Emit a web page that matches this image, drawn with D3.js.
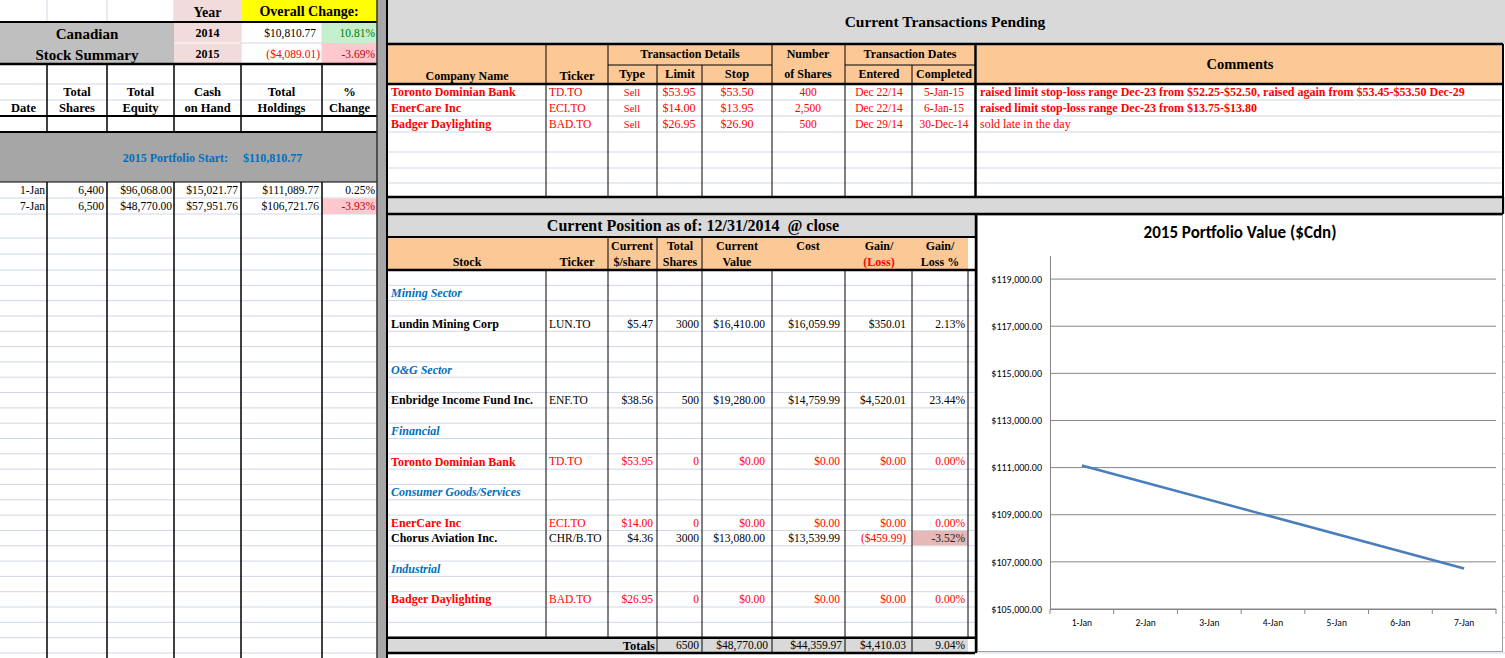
<!DOCTYPE html>
<html>
<head>
<meta charset="utf-8">
<title>Canadian Stock Summary</title>
<script src="https://cdn.jsdelivr.net/npm/d3@7"></script>
<style>
  body { margin: 0; background: #fff; overflow: hidden; }
  svg { display: block; }
  text { white-space: pre; }
</style>
</head>
<body>
<div id="sheet"></div>
<script>
// overall change block
const overallYears = ["2014", "2015"];
const overallAmounts = [10810.77, -4089.01];
const overallPercents = [10.81, -3.69];
const portfolioStart = 110810.77;

// daily summary (left table)
const summaryDates = ["1-Jan", "7-Jan"];
const summaryShares = [6400, 6500];
const summaryEquity = [96068.00, 48770.00];
const summaryCash = [15021.77, 57951.76];
const summaryHoldings = [111089.77, 106721.76];
const summaryChange = [0.25, -3.93];

// pending transactions
const txCompanies = ["Toronto Dominian Bank", "EnerCare Inc", "Badger Daylighting"];
const txTickers = ["TD.TO", "ECI.TO", "BAD.TO"];
const txTypes = ["Sell", "Sell", "Sell"];
const txLimits = [53.95, 14.00, 26.95];
const txStops = [53.50, 13.95, 26.90];
const txShares = [400, 2500, 500];
const txEntered = ["Dec 22/14", "Dec 22/14", "Dec 29/14"];
const txCompleted = ["5-Jan-15", "6-Jan-15", "30-Dec-14"];
const txComments = [
  "raised limit stop-loss range Dec-23 from $52.25-$52.50, raised again from $53.45-$53.50 Dec-29",
  "raised limit stop-loss range Dec-23 from $13.75-$13.80",
  "sold late in the day"
];

// current position
const sectorNames = ["Mining Sector", "O&G Sector", "Financial", "Consumer Goods/Services", "Industrial"];
const stockNames = ["Lundin Mining Corp", "Enbridge Income Fund Inc.", "Toronto Dominian Bank", "EnerCare Inc", "Chorus Aviation Inc.", "Badger Daylighting"];
const stockTickers = ["LUN.TO", "ENF.TO", "TD.TO", "ECI.TO", "CHR/B.TO", "BAD.TO"];
const stockPrices = [5.47, 38.56, 53.95, 14.00, 4.36, 26.95];
const stockShares = [3000, 500, 0, 0, 3000, 0];
const stockValues = [16410.00, 19280.00, 0, 0, 13080.00, 0];
const stockCosts = [16059.99, 14759.99, 0, 0, 13539.99, 0];
const stockGains = [350.01, 4520.01, 0, 0, -459.99, 0];
const stockGainPct = [2.13, 23.44, 0.00, 0.00, -3.52, 0.00];
const totalsRow = [6500, 48770.00, 44359.97, 4410.03, 9.04];

// chart axis
const chartDays = ["1-Jan", "2-Jan", "3-Jan", "4-Jan", "5-Jan", "6-Jan", "7-Jan"];
const chartTicks = [105000, 107000, 109000, 111000, 113000, 115000, 117000, 119000];
const chartMax = 120000;

// ---- layout ----
const W = 1505, H = 658;
const SERIF = "'Liberation Serif','Times New Roman',serif";
const SANS = "Carlito, Lato, 'Open Sans', sans-serif";
const GRID = "#d0d7e5", ORANGE = "#fcc996", BAND = "#d9d9d9", PINK = "#f2dcdb";
const BLUE = "#0070c0", RED = "#ff0000";
const LX = [0, 47, 107, 174, 241, 322, 377];
const TX = [388, 546, 608, 657, 702, 772, 845, 912, 975];
const PX = [546, 608, 657, 702, 772, 845, 912, 968];
const GRID_TOP = 270, GRID_BOTTOM = 653, GRID_N = 25;
const rowY = i => GRID_TOP + i * (GRID_BOTTOM - GRID_TOP) / GRID_N;
const rowMid = i => (rowY(i) + rowY(i + 1)) / 2;
const sectorRowIdx = [1, 6, 10, 14, 19];
const stockRowIdx = [3, 8, 12, 16, 17, 21];
const NUM = 11.5;   // body number size

const loc = d3.formatLocale({decimal: ".", thousands: ",", grouping: [3], currency: ["$", ""], minus: "-"});
const money = loc.format("($,.2f");
const pct = v => loc.format(".2f")(v) + "%";
const comma = loc.format(",");

const svg = d3.select("#sheet").append("svg").attr("width", W).attr("height", H);
const gGrid = svg.append("g");
const gFill = svg.append("g");
const gLine = svg.append("g");
const gChart = svg.append("g");
const gText = svg.append("g");

function fill(x, y, w, h, c) {
  gFill.append("rect").attr("x", x).attr("y", y).attr("width", w).attr("height", h).attr("fill", c);
}
function hl(g, x1, x2, y, c, w) {
  g.append("line").attr("x1", x1).attr("x2", x2).attr("y1", y).attr("y2", y)
    .attr("stroke", c).attr("stroke-width", w);
}
function vl(g, x, y1, y2, c, w) {
  g.append("line").attr("x1", x).attr("x2", x).attr("y1", y1).attr("y2", y2)
    .attr("stroke", c).attr("stroke-width", w);
}
function txt(x, cy, s, o = {}) {
  const size = o.size || NUM;
  gText.append("text")
    .attr("x", x).attr("y", cy + size * 0.34)
    .attr("text-anchor", o.anchor || "start")
    .attr("font-family", o.family || SERIF)
    .attr("font-size", size)
    .attr("font-weight", o.bold ? "bold" : null)
    .attr("font-style", o.italic ? "italic" : null)
    .attr("fill", o.color || "#000")
    .text(s);
}

// ---- light spreadsheet gridlines ----
[84, 100, 198, 214, 238, 254].forEach(y => hl(gGrid, 0, 377, y, GRID, 1));
d3.range(0, GRID_N + 1).forEach(i => hl(gGrid, 0, 1505, rowY(i), GRID, 1));
[100, 116, 132, 152, 168, 183].forEach(y => hl(gGrid, 388, 1503, y, GRID, 1));
hl(gGrid, 241, 377, 43, GRID, 1);
[47, 107].forEach(x => vl(gGrid, x, 0, 22, GRID, 1));
[174, 241, 322].forEach(x => vl(gGrid, x, 0, 64, GRID, 1));

// ---- left panel fills ----
fill(0, 22, 174, 42, "#bfbfbf");
fill(174, 0, 67, 21.5, PINK);
fill(174, 22, 67, 20.5, PINK);
fill(174, 43.5, 67, 20.5, PINK);
fill(241, 0, 136, 22, "#ffff00");
fill(322, 22, 55, 21, "#c6efce");
fill(322, 43, 55, 21, "#ffc7ce");
fill(0, 132, 377, 50, "#a6a6a6");
fill(322, 198.5, 55, 15.5, "#ffc7ce");
fill(377, 0, 10, H, "#a6a6a6");

// ---- right panel fills ----
fill(388, 0, 1117, 44, BAND);
fill(388, 44, 587, 40, ORANGE);
fill(977, 44, 526, 40, ORANGE);
fill(388, 197, 1117, 17, BAND);
fill(388, 214, 587, 23, BAND);
fill(388, 237, 580, 33, ORANGE);
fill(388, rowY(24), 580, rowY(25) - rowY(24), BAND);
fill(912.5, rowY(17) + 0.5, 55, rowY(18) - rowY(17) - 1, "#e6b8b7");

// ---- black borders, left ----
hl(gLine, 0, 377, 22, "#000", 2);
hl(gLine, 0, 377, 64, "#000", 2.5);
hl(gLine, 0, 377, 116, "#000", 2);
hl(gLine, 0, 377, 132, "#000", 2);
hl(gLine, 0, 377, 182, "#000", 1);
LX.slice(1, 6).forEach(x => {
  vl(gLine, x, 64, 132, "#000", 1.5);
  vl(gLine, x, 182, H, "#000", 1.5);
});
vl(gLine, 377, 0, H, "#333", 1.5);
vl(gLine, 387, 0, H, "#000", 2);

// ---- black borders, transactions ----
[44, 84, 197, 214].forEach(y => hl(gLine, 388, 1503, y, "#000", 2.5));
hl(gLine, TX[2], TX[5], 65, "#000", 1);
hl(gLine, TX[6], TX[8], 65, "#000", 1);
[TX[1], TX[2], TX[5], TX[6]].forEach(x => vl(gLine, x, 44, 197, "#000", 1));
[TX[3], TX[4], TX[7]].forEach(x => vl(gLine, x, 65, 197, "#000", 1));
vl(gLine, TX[8] + 0.5, 44, 197, "#000", 2.5);
vl(gLine, 1503, 44, 214, "#000", 2);

// ---- black borders, position ----
hl(gLine, 388, 975, 237, "#000", 2);
hl(gLine, 388, 975, 270, "#000", 2.5);
hl(gLine, 388, 975, rowY(24), "#000", 2.5);
hl(gLine, 388, 975, rowY(25), "#000", 2.5);
[608, 657, 702].forEach(x => vl(gLine, x, 237, 270, "#000", 1));
PX.forEach(x => vl(gLine, x, 270, rowY(24), "#000", 1));
[657, 702, 772, 845, 912].forEach(x => vl(gLine, x, rowY(24), rowY(25), "#000", 1));

// ---- left panel text ----
txt(207.5, 12, "Year", {anchor: "middle", bold: true, size: 14});
txt(309, 11, "Overall Change:", {anchor: "middle", bold: true, size: 14});
txt(87, 34, "Canadian", {anchor: "middle", bold: true, size: 15});
txt(87, 55, "Stock Summary", {anchor: "middle", bold: true, size: 15});
overallYears.forEach((yr, i) => {
  const cy = 33 + i * 21;
  txt(207.5, cy, yr, {anchor: "middle", bold: true, size: 12});
  txt(i ? 320 : 316, cy, money(overallAmounts[i]), {anchor: "end", color: overallAmounts[i] < 0 ? RED : "#000"});
  txt(375, cy, pct(overallPercents[i]), {anchor: "end", color: overallPercents[i] < 0 ? "#c00000" : "#008000"});
});
const leftHeads = [["", "Date"], ["Total", "Shares"], ["Total", "Equity"], ["Cash", "on Hand"], ["Total", "Holdings"], ["%", "Change"]];
leftHeads.forEach((h, i) => {
  const cx = (LX[i] + LX[i + 1]) / 2;
  txt(cx, 92, h[0], {anchor: "middle", bold: true, size: 12.5});
  txt(cx, 108, h[1], {anchor: "middle", bold: true, size: 12.5});
});
txt(228, 158, "2015 Portfolio Start:", {anchor: "end", bold: true, size: 12, color: BLUE});
txt(243, 158, money(portfolioStart), {bold: true, size: 12, color: BLUE});
summaryDates.forEach((d, i) => {
  const cy = 190 + i * 16;
  txt(45, cy, d, {anchor: "end"});
  txt(104, cy, comma(summaryShares[i]), {anchor: "end"});
  txt(172, cy, money(summaryEquity[i]), {anchor: "end"});
  txt(238, cy, money(summaryCash[i]), {anchor: "end"});
  txt(319, cy, money(summaryHoldings[i]), {anchor: "end"});
  txt(375, cy, pct(summaryChange[i]), {anchor: "end", color: summaryChange[i] < 0 ? "#c00000" : "#000"});
});

// ---- transactions text ----
txt(945, 22, "Current Transactions Pending", {anchor: "middle", bold: true, size: 15.5});
txt(467, 76, "Company Name", {anchor: "middle", bold: true, size: 12});
txt(577, 76, "Ticker", {anchor: "middle", bold: true, size: 12.5});
txt(690, 54, "Transaction Details", {anchor: "middle", bold: true, size: 12});
txt(632, 74, "Type", {anchor: "middle", bold: true, size: 12.5});
txt(680, 74, "Limit", {anchor: "middle", bold: true, size: 12.5});
txt(737, 74, "Stop", {anchor: "middle", bold: true, size: 12.5});
txt(808, 54, "Number", {anchor: "middle", bold: true, size: 12});
txt(808, 74, "of Shares", {anchor: "middle", bold: true, size: 12});
txt(910, 54, "Transaction Dates", {anchor: "middle", bold: true, size: 12});
txt(879, 74, "Entered", {anchor: "middle", bold: true, size: 12});
txt(944, 74, "Completed", {anchor: "middle", bold: true, size: 12});
txt(1240, 64, "Comments", {anchor: "middle", bold: true, size: 14.5});
txCompanies.forEach((c, i) => {
  const cy = 92 + i * 16;
  txt(391, cy, c, {bold: true, size: 12, color: RED});
  txt(549, cy, txTickers[i], {color: RED});
  txt(632, cy, txTypes[i], {anchor: "middle", size: 10.5, color: RED});
  txt(679, cy, money(txLimits[i]), {anchor: "middle", size: 12, color: RED});
  txt(737, cy, money(txStops[i]), {anchor: "middle", size: 12, color: RED});
  txt(808, cy, comma(txShares[i]), {anchor: "middle", color: RED});
  txt(879, cy, txEntered[i], {anchor: "middle", color: RED});
  txt(944, cy, txCompleted[i], {anchor: "middle", color: RED});
  txt(980, cy, txComments[i], {bold: i < 2, size: 12, color: RED});
});

// ---- position text ----
txt(693, 226, "Current Position as of: 12/31/2014  @ close", {anchor: "middle", bold: true, size: 16});
txt(467, 262, "Stock", {anchor: "middle", bold: true, size: 12});
txt(577, 262, "Ticker", {anchor: "middle", bold: true, size: 12.5});
txt(632, 246, "Current", {anchor: "middle", bold: true, size: 12});
txt(632, 262, "$/share", {anchor: "middle", bold: true, size: 12});
txt(680, 246, "Total", {anchor: "middle", bold: true, size: 12});
txt(680, 262, "Shares", {anchor: "middle", bold: true, size: 12});
txt(737, 246, "Current", {anchor: "middle", bold: true, size: 12});
txt(737, 262, "Value", {anchor: "middle", bold: true, size: 12});
txt(808, 246, "Cost", {anchor: "middle", bold: true, size: 12});
txt(879, 246, "Gain/", {anchor: "middle", bold: true, size: 12});
txt(879, 262, "(Loss)", {anchor: "middle", bold: true, size: 12, color: RED});
txt(940, 246, "Gain/", {anchor: "middle", bold: true, size: 12});
txt(940, 262, "Loss %", {anchor: "middle", bold: true, size: 12});

sectorNames.forEach((s, i) => {
  txt(391, rowMid(sectorRowIdx[i]), s, {bold: true, italic: true, size: 12, color: BLUE});
});
stockNames.forEach((s, i) => {
  const cy = rowMid(stockRowIdx[i]);
  const pending = txTickers.includes(stockTickers[i]);
  const c = pending ? RED : "#000";
  txt(391, cy, s, {bold: true, size: 12, color: c});
  txt(549, cy, stockTickers[i], {color: c});
  txt(653, cy, money(stockPrices[i]), {anchor: "end", color: c});
  txt(699, cy, String(stockShares[i]), {anchor: "end", color: c});
  txt(765, cy, money(stockValues[i]), {anchor: "end", color: c});
  txt(840, cy, money(stockCosts[i]), {anchor: "end", color: c});
  txt(906, cy, money(stockGains[i]), {anchor: "end", color: stockGains[i] < 0 ? RED : c});
  txt(965, cy, pct(stockGainPct[i]), {anchor: "end", color: stockGainPct[i] < 0 ? "#222" : c});
});
const tcy = rowMid(24);
txt(655, tcy, "Totals", {anchor: "end", bold: true, size: 12.5});
txt(699, tcy, String(totalsRow[0]), {anchor: "end"});
txt(768, tcy, money(totalsRow[1]), {anchor: "end"});
txt(842, tcy, money(totalsRow[2]), {anchor: "end"});
txt(906, tcy, money(totalsRow[3]), {anchor: "end"});
txt(965, tcy, pct(totalsRow[4]), {anchor: "end"});

// ---- chart ----
gChart.append("rect").attr("x", 977.5).attr("y", 215.5).attr("width", 525).attr("height", 436)
  .attr("fill", "#fff").attr("stroke", "#a0a0a0").attr("stroke-width", 1);
vl(gChart, 976, 214, 653, "#000", 2.5);
gChart.append("text").attr("x", 1240).attr("y", 238)
  .attr("text-anchor", "middle").attr("font-family", SANS).attr("font-size", 17)
  .attr("font-weight", "bold").text("2015 Portfolio Value ($Cdn)");

const x = d3.scaleBand().domain(chartDays).range([1050, 1496]);
const y = d3.scaleLinear().domain([chartTicks[0], chartMax]).range([609, 255.5]);

chartTicks.forEach(t => hl(gChart, 1050, 1496, y(t), "#868686", 1));

const yAxis = gChart.append("g").attr("transform", "translate(1050,0)")
  .call(d3.axisLeft(y).tickValues(chartTicks).tickFormat(loc.format("$,.2f")).tickSize(0).tickPadding(8));
yAxis.select(".domain").attr("stroke", "#868686");
yAxis.selectAll("text").attr("font-family", SANS).attr("font-size", 10).attr("fill", "#000");

const xAxis = gChart.append("g").attr("transform", "translate(0,609)")
  .call(d3.axisBottom(x).tickSize(0).tickPadding(10));
xAxis.select(".domain").attr("stroke", "#868686");
xAxis.selectAll("text").attr("font-family", SANS).attr("font-size", 9.5).attr("fill", "#000");
chartDays.map(d => x(d)).concat([x.range()[1]]).forEach(px => vl(gChart, px, 609, 614, "#868686", 1));

const series = summaryDates.map((d, i) => ({day: d, value: summaryHoldings[i]}));
gChart.append("path").datum(series)
  .attr("fill", "none").attr("stroke", "#4a7ebb").attr("stroke-width", 2.5)
  .attr("d", d3.line().x(d => x(d.day) + x.bandwidth() / 2).y(d => y(d.value)));
</script>
</body>
</html>
